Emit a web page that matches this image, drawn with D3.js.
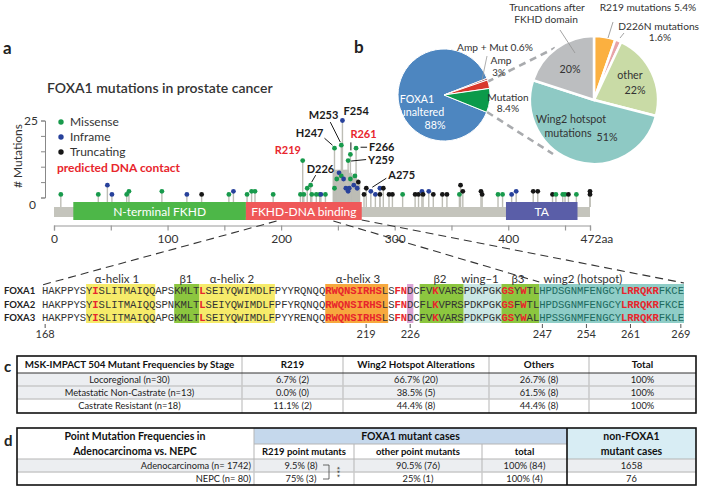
<!DOCTYPE html>
<html><head><meta charset="utf-8">
<script src="https://cdn.jsdelivr.net/npm/d3@7/dist/d3.min.js"></script>
<style>html,body{margin:0;padding:0;background:#fff;}svg{display:block;}</style>
</head><body>
<svg id="chart" width="702" height="487"></svg>
<script>
// ================= DATA =================
// lollipop mutations: amino-acid position, number of mutations, type (M missense, I inframe, T truncating)
const mutPos = [6,39,47,51,64,66,95,117,130,154,158,170,174,177,193,217,219,220,223,226,227,231,234,235,239,
  247,247,249,251,253,253,254,255,257,259,259,260,261,261,264,265,266,267,268,
  273,275,279,283,287,287,290,295,298,307,318,321,324,325,330,334,342,346,357,358,360,376,377,391,395,403,407,422,426,439,442,448,450,453,460,472,472];
const mutCount = [1,1,4,1,1,2,2,1,1,1,2,1,2,2,1,1,12,1,3,4,1,1,1,1,1,
  16,3,6,8,17,7,25,6,3,12,2,3,14,6,4,7,16,3,5,
  1,3,2,1,3,1,3,1,1,1,1,1,2,1,2,1,1,1,1,4,2,2,1,1,1,1,2,2,2,1,1,1,1,1,1,2,1];
const mutType = ["M","M","I","I","M","M","M","I","T","M","I","M","M","M","M","M","M","M","M","M","M","M","M","I","M",
  "M","M","M","I","M","M","I","I","I","M","I","I","M","M","I","M","M","I","T",
  "T","T","I","I","I","T","T","T","T","M","T","T","I","T","I","T","T","T","M","T","T","T","T","M","M","I","I","T","T","T","M","M","M","T","M","T","T"];
// dense stems of the wing2 hotspot cluster
const hotPos = [246,247,248,249,250,251,252,253,254,255,256,257,258,259,260,261,262,263,264,265,266,267,268,269];
const hotHeight = [8,9,9,9,9,9,9,9,9,9,9,9,9,9,8,8,8,7,7,7,7,6,6,5];
// labelled hotspot residues
const hotLabels = ["R219","D226","H247","M253","F254","R261","Y259","F266","A275"];
const hotLabelPos = [219,226,247,253,254,261,259,266,275];
const hotLabelCount = [12,4,16,17,25,14,12,16,3];
const dnaContact = ["R219","R261"];
// protein domains
const domainName = ["N-terminal FKHD","FKHD-DNA binding","TA"];
const domainStart = [17,169,398];
const domainEnd = [169,271,461];
const proteinLength = 472;
const axisTicks = [0,50,100,150,200,250,300,350,400,450,472];
const axisLabels = ["0","","100","","200","","300","","400","","472aa"];
const yTicks = [0,5,10,15,20,25];
const legendNames = ["Missense","Inframe","Truncating"];
const legendTypes = ["M","I","T"];

// pies
const leftPieNames = ["FOXA1 unaltered","Amp + Mut","Amp","Mutation"];
const leftPieValues = [88,0.6,3,8.4];
const rightPieNames = ["R219 mutations","D226N mutations","other","Wing2 hotspot mutations","Truncations after FKHD domain"];
const rightPieValues = [5.4,1.6,22,51,20];

// alignment
const seqNames = ["FOXA1","FOXA2","FOXA3"];
const seqs = [
  "HAKPPYSYISLITMAIQQAPSKMLTLSEIYQWIMDLFPYYRQNQQRWQNSIRHSLSFNDCFVKVARSPDKPGKGSYWTLHPDSGNMFENGCYLRRQKRFKCE",
  "HAKPPYSYISLITMAIQQSPNKMLTLSEIYQWIMDLFPFYRQNQQRWQNSIRHSLSFNDCFLKVPRSPDKPGKGSFWTLHPDSGNMFENGCYLRRQKRFKCE",
  "HAKPPYSYISLITMAIQQAPGKMLTLSEIYQWIMDLFPYYRENQQRWQNSIRHSLSFNDCFVKVARSPDKPGKGSYWALHPSSGNMFENGCYLRRQKRFKLE"];
const seqStart = 168;
const contactIdx = [8,25,45,46,47,48,49,50,51,52,53,56,57,62,73,74,76,92,93,94,95,96,97];
const structName = ["α-helix 1","β1","α-helix 2","α-helix 3","","β2","wing–1","β3","wing2 (hotspot)"];
const structFrom = [7,21,25,45,58,60,67,73,79];
const structTo   = [17,24,36,54,58,66,72,78,101];
const structKind = ["helix","beta","helix","helix3","d226","beta","wing1","beta","wing2"];
const residueTicks = [168,219,226,247,254,261,269];

// table c
const tcHeader = ["MSK-IMPACT 504 Mutant Frequencies by Stage","R219","Wing2 Hotspot Alterations","Others","Total"];
const tcRows = [
  ["Locoregional (n=30)","6.7% (2)","66.7% (20)","26.7% (8)","100%"],
  ["Metastatic Non-Castrate (n=13)","0.0% (0)","38.5% (5)","61.5% (8)","100%"],
  ["Castrate Resistant (n=18)","11.1% (2)","44.4% (8)","44.4% (8)","100%"]];
// table d
const tdTitle = ["Point Mutation Frequencies in","Adenocarcinoma vs. NEPC"];
const tdGroup = "FOXA1 mutant cases";
const tdSub = ["R219 point mutants","other point mutants","total"];
const tdOther = ["non-FOXA1","mutant cases"];
const tdRows = [
  ["Adenocarcinoma (n= 1742)","9.5% (8)","90.5% (76)","100% (84)","1658"],
  ["NEPC (n= 80)","75% (3)","25% (1)","100% (4)","76"]];
const tdSignif = "***";

// ================= DRAWING =================
const svg = d3.select("#chart");
const SANS = "Lato, 'Open Sans', 'DejaVu Sans', sans-serif";
const MONO = "'Liberation Mono', 'DejaVu Sans Mono', monospace";
const typeColor = {M:"#189a4c", I:"#27419b", T:"#161616"};
const RED = "#e8262d";

function txt(g, x, y, s, o = {}) {
  return g.append("text").attr("x", x).attr("y", y).text(s)
    .attr("font-family", o.family || SANS).attr("font-size", o.size || 11)
    .attr("font-weight", o.weight || "normal").attr("fill", o.fill || "#222")
    .attr("text-anchor", o.anchor || "start");
}

// panel letters
txt(svg, 3, 54, "a", {size: 17, weight: "bold"});
txt(svg, 354, 53, "b", {size: 17, weight: "bold"});
txt(svg, 4, 372, "c", {size: 15, weight: "bold"});
txt(svg, 4, 446, "d", {size: 15, weight: "bold"});

// ---------- panel a : lollipop ----------
const x = d3.scaleLinear().domain([0, proteinLength]).range([54, 590]);
const y = d3.scaleLinear().domain([0, 25]).range([197.5, 120.5]);
const barTop = 207, barBot = 217;

txt(svg, 47, 93, "FOXA1 mutations in prostate cancer", {size: 14, weight: 600, fill: "#333"});

// y axis
const yAx = svg.append("g").attr("transform", "translate(45,0)")
  .call(d3.axisLeft(y).tickValues(yTicks).tickSize(4).tickFormat(d => (d === 25 ? "25" : d === 0 ? "0" : "")));
yAx.select(".domain").attr("stroke", "#888");
yAx.selectAll(".tick line").attr("stroke", "#888");
yAx.selectAll("text").attr("font-family", SANS).attr("font-size", 12).attr("fill", "#333");
yAx.selectAll(".tick").filter(d => d === 0).select("text").attr("dy", "0.9em").attr("x", -9);
svg.append("text").attr("transform", "translate(22,156) rotate(-90)").attr("text-anchor", "middle")
  .attr("font-family", SANS).attr("font-size", 12).attr("fill", "#333").text("# Mutations");

// legend
legendNames.forEach((n, i) => {
  svg.append("circle").attr("cx", 61).attr("cy", 122 + i * 15).attr("r", 2.7).attr("fill", typeColor[legendTypes[i]]);
  txt(svg, 70, 126 + i * 15, n, {size: 12, fill: "#333"});
});
txt(svg, 57, 172, "predicted DNA contact", {size: 12, weight: "bold", fill: RED});

// stems
const stemColor = "#bdbdb5";
svg.append("g").selectAll("line").data(hotPos).join("line")
  .attr("x1", d => x(d)).attr("x2", d => x(d)).attr("y1", barTop)
  .attr("y2", (d, i) => y(hotHeight[i])).attr("stroke", stemColor).attr("stroke-width", 1.6);
svg.append("g").selectAll("line").data(mutPos).join("line")
  .attr("x1", d => x(d)).attr("x2", d => x(d)).attr("y1", barTop)
  .attr("y2", (d, i) => y(mutCount[i])).attr("stroke", stemColor).attr("stroke-width", 1.4);

// protein bar + domains
svg.append("rect").attr("x", x(0)).attr("y", barTop).attr("width", x(proteinLength) - x(0))
  .attr("height", barBot - barTop).attr("fill", "#c4c4bc");
const domColor = ["#4db748", "#ef5859", "#5a5ea8"];
domainName.forEach((n, i) => {
  svg.append("rect").attr("x", x(domainStart[i])).attr("y", 202).attr("width", x(domainEnd[i]) - x(domainStart[i]))
    .attr("height", 18).attr("fill", domColor[i]);
  txt(svg, (x(domainStart[i]) + x(domainEnd[i])) / 2, 215.5, n, {size: 12, fill: "#fff", anchor: "middle"});
});

// dots
svg.append("g").selectAll("circle").data(mutPos).join("circle")
  .attr("cx", d => x(d)).attr("cy", (d, i) => y(mutCount[i])).attr("r", 2.4)
  .attr("fill", (d, i) => typeColor[mutType[i]]);

// hotspot labels
const lab = svg.append("g");
const labOpt = n => ({size: 11, weight: "bold", fill: dnaContact.includes(n) ? RED : "#1a1a1a"});
const lineStroke = (x1, y1, x2, y2) => lab.append("line").attr("x1", x1).attr("y1", y1).attr("x2", x2).attr("y2", y2)
  .attr("stroke", "#1a1a1a").attr("stroke-width", 1);
hotLabels.forEach((n, i) => {
  const px = x(hotLabelPos[i]), py = y(hotLabelCount[i]);
  if (n === "R219") txt(lab, px - 28, py - 7, n, labOpt(n));
  if (n === "D226") { txt(lab, px - 4, py - 12, n, labOpt(n)); lineStroke(px + 1, py - 3, px + 5, py - 10); }
  if (n === "H247") { txt(lab, px - 11, py - 11, n, Object.assign(labOpt(n), {anchor: "end"})); lineStroke(px - 10, py - 10, px - 2, py - 3); }
  if (n === "M253") { txt(lab, px - 3, py - 26, n, Object.assign(labOpt(n), {anchor: "end"})); lineStroke(px - 11, py - 23, px - 1, py - 3); }
  if (n === "F254") txt(lab, px + 1, py - 6, n, labOpt(n));
  if (n === "R261") { txt(lab, px, py - 16, n, labOpt(n)); lineStroke(px + 0.5, py - 12, px + 0.5, py - 4); }
  if (n === "Y259") { txt(lab, px + 20, py + 3.5, n, labOpt(n)); lineStroke(px + 3, py + 0.5, px + 18, py - 1); }
  if (n === "F266") { txt(lab, px + 13, py + 3, n, labOpt(n)); lineStroke(px + 4.5, py - 1, px + 11, py - 1); }
  if (n === "A275") { txt(lab, px + 22, py - 9, n, labOpt(n)); lineStroke(px + 6, py - 1, px + 20, py - 10); }
});

// x axis
const xAx = svg.append("g").attr("transform", "translate(0,225.5)")
  .call(d3.axisBottom(x).tickValues(axisTicks).tickSize(5).tickPadding(4).tickFormat((d, i) => axisLabels[i]));
xAx.select(".domain").attr("stroke", "#999").attr("stroke-width", 1.2);
xAx.selectAll(".tick line").attr("stroke", "#999").attr("stroke-width", 1.2);
xAx.selectAll("text").attr("font-family", SANS).attr("font-size", 12).attr("fill", "#333");
xAx.selectAll(".tick").filter(d => d === proteinLength).select("text").attr("text-anchor", "start").attr("x", -10);

// ---------- alignment ----------
const cw = 6.294, sx0 = 42;
const ci = i => sx0 + (i + 0.5) * cw;
const rowY = [290, 304, 317.5];
// zoom dashed lines
const dash = svg.append("g").attr("stroke", "#333").attr("stroke-width", 1.1).attr("stroke-dasharray", "8,5").attr("fill", "none");
dash.append("line").attr("x1", x(196)).attr("y1", 221).attr("x2", sx0).attr("y2", 285);
dash.append("line").attr("x1", x(246)).attr("y1", 221).attr("x2", sx0 + 79 * cw).attr("y2", 282);
dash.append("line").attr("x1", x(271)).attr("y1", 220).attr("x2", sx0 + 102 * cw).attr("y2", 283);

const bgColor = {helix: "#f6eb6a", beta: "#8cc63f", helix3: "#f7a83e", d226: "#d9a3d3", wing1: "#cbe7e5", wing2: "#8fcdc7"};
structName.forEach((n, i) => {
  svg.append("rect").attr("x", sx0 + structFrom[i] * cw).attr("y", 284)
    .attr("width", (structTo[i] - structFrom[i] + 1) * cw).attr("height", 39).attr("fill", bgColor[structKind[i]]);
});
const structLabelX = [117, 186, 232, 358, 0, 440, 480, 518, 583];
structName.forEach((n, i) => { if (n) txt(svg, structLabelX[i], 283, n, {size: 11.5, anchor: "middle", fill: "#333"}); });

seqs.forEach((s, r) => {
  txt(svg, 4, rowY[r] + 3.5, seqNames[r], {size: 9.5, weight: "bold", fill: "#222"});
  const g = svg.append("g").attr("font-family", MONO).attr("font-size", 10.6);
  g.selectAll("text").data(s.split("")).join("text")
    .attr("x", (d, i) => ci(i)).attr("y", rowY[r] + 3.5).attr("text-anchor", "middle")
    .attr("font-weight", (d, i) => contactIdx.includes(i) ? "bold" : "normal")
    .attr("fill", (d, i) => contactIdx.includes(i) ? RED : (i >= 79 ? "#1d6a5e" : "#333"))
    .text(d => d);
});
residueTicks.forEach(a => {
  const px = ci(a - seqStart);
  svg.append("line").attr("x1", px).attr("x2", px).attr("y1", 324).attr("y2", 328).attr("stroke", "#555");
  txt(svg, px, 338, String(a), {size: 11, anchor: "middle", fill: "#333"});
});

// ---------- panel b : pies ----------
const deg = Math.PI / 180;
const PF = 10.2;
// dashed connectors
const gd = svg.append("g").attr("stroke", "#a9abae").attr("stroke-width", 2.6).attr("stroke-dasharray", "7,5");
gd.append("line").attr("x1", 487).attr("y1", 82).attr("x2", 555).attr("y2", 48);
gd.append("line").attr("x1", 487).attr("y1", 112).attr("x2", 553).attr("y2", 154);

const pieL = d3.pie().sort(null).startAngle(112 * deg).endAngle(112 * deg + 2 * Math.PI);
const arcL = d3.arc().innerRadius(0).outerRadius(46);
const leftColors = ["#4d86c0", "#8c2b2b", "#d8382b", "#0b9a4a"];
const gL = svg.append("g").attr("transform", "translate(444,95)");
gL.selectAll("path").data(pieL(leftPieValues)).join("path")
  .attr("d", arcL).attr("fill", (d, i) => leftColors[i]).attr("stroke", "#fff").attr("stroke-width", 1);
txt(svg, 417, 103, "FOXA1", {size: PF + 0.5, fill: "#fff", anchor: "middle"});
txt(svg, 422, 116, "unaltered", {size: PF + 0.5, fill: "#fff", anchor: "middle"});
txt(svg, 435, 129, "88%", {size: PF + 0.5, fill: "#fff", anchor: "middle"});
txt(svg, 495, 51, leftPieNames[1] + " 0.6%", {size: PF, anchor: "middle", fill: "#333"});
txt(svg, 501, 64, leftPieNames[2], {size: PF, anchor: "middle", fill: "#333"});
txt(svg, 499, 75.5, "3%", {size: PF - 0.5, anchor: "middle", fill: "#333"});
txt(svg, 508, 101, leftPieNames[3], {size: PF, anchor: "middle", fill: "#333"});
txt(svg, 508, 112, "8.4%", {size: PF, anchor: "middle", fill: "#333"});
svg.append("line").attr("x1", 482).attr("y1", 80).attr("x2", 487).attr("y2", 56).attr("stroke", "#999").attr("stroke-width", 0.8);

const pieR = d3.pie().sort(null);
const arcR = d3.arc().innerRadius(0).outerRadius(64);
const rightColors = ["#fbb040", "#e7a4a8", "#c9dba6", "#8ec9c4", "#bcbec0"];
const gR = svg.append("g").attr("transform", "translate(594,100)");
gR.selectAll("path").data(pieR(rightPieValues)).join("path")
  .attr("d", arcR).attr("fill", (d, i) => rightColors[i]).attr("stroke", "#fff").attr("stroke-width", 2.5);
txt(svg, 570, 73, "20%", {size: PF + 0.5, anchor: "middle", fill: "#333"});
txt(svg, 630, 79, "other", {size: PF + 0.5, anchor: "middle", fill: "#333"});
txt(svg, 635, 94, "22%", {size: PF + 0.5, anchor: "middle", fill: "#333"});
txt(svg, 571, 123, "Wing2 hotspot", {size: PF + 0.5, anchor: "middle", fill: "#333"});
txt(svg, 568, 137, "mutations", {size: PF + 0.5, anchor: "middle", fill: "#333"});
txt(svg, 607, 141, "51%", {size: PF + 0.5, anchor: "middle", fill: "#333"});
txt(svg, 547, 11, "Truncations after", {size: PF, anchor: "middle", fill: "#333"});
txt(svg, 546, 23, "FKHD domain", {size: PF, anchor: "middle", fill: "#333"});
txt(svg, 648, 11, rightPieNames[0] + " 5.4%", {size: PF, anchor: "middle", fill: "#333"});
txt(svg, 699, 30, rightPieNames[1], {size: PF, anchor: "end", fill: "#333"});
txt(svg, 660, 41, "1.6%", {size: PF, anchor: "middle", fill: "#333"});
const lc = svg.append("g").attr("stroke", "#999").attr("stroke-width", 0.9);
lc.append("line").attr("x1", 560).attr("y1", 30).attr("x2", 575).attr("y2", 53);
lc.append("line").attr("x1", 613).attr("y1", 22).attr("x2", 608).attr("y2", 38);
lc.append("line").attr("x1", 624).attr("y1", 33).attr("x2", 620).attr("y2", 38);

// ---------- table c ----------
const TF = "Lato, 'Open Sans', sans-serif";
const tc = svg.append("g");
const tcCols = [17, 242, 343, 489, 589, 696];
const tcY = [356, 373, 386, 399, 413];
tcRows.forEach((r, i) => {
  tc.append("rect").attr("x", tcCols[0]).attr("y", tcY[i + 1]).attr("width", tcCols[5] - tcCols[0])
    .attr("height", tcY[i + 2] - tcY[i + 1]).attr("fill", i < 2 ? "#eceef1" : "#ffffff");
});
for (let k = 1; k < 5; k++) tc.append("line").attr("x1", tcCols[k]).attr("x2", tcCols[k]).attr("y1", tcY[0]).attr("y2", tcY[4]).attr("stroke", "#b5b5b5").attr("stroke-width", 1);
[2, 3].forEach(k => tc.append("line").attr("x1", tcCols[0]).attr("x2", tcCols[5]).attr("y1", tcY[k]).attr("y2", tcY[k]).attr("stroke", "#c9c9c9").attr("stroke-width", 1.5));
tc.append("line").attr("x1", tcCols[0]).attr("x2", tcCols[5]).attr("y1", tcY[1]).attr("y2", tcY[1]).attr("stroke", "#333").attr("stroke-width", 1);
tcHeader.forEach((h, k) => txt(tc, (tcCols[k] + tcCols[k + 1]) / 2, 368, h, {family: TF, size: 9.8, weight: "bold", anchor: "middle", fill: "#111"}));
tcRows.forEach((r, i) => r.forEach((v, k) => txt(tc, (tcCols[k] + tcCols[k + 1]) / 2, tcY[i + 1] + 9.5, v, {family: TF, size: 9.3, anchor: "middle", fill: "#222"})));
tc.append("rect").attr("x", tcCols[0]).attr("y", tcY[0]).attr("width", tcCols[5] - tcCols[0]).attr("height", tcY[4] - tcY[0])
  .attr("fill", "none").attr("stroke", "#111").attr("stroke-width", 1.6);

// ---------- table d ----------
const td = svg.append("g");
const tdCols = [17, 254, 354, 482, 567, 696];
const tdY = [428, 444, 459, 472, 485];
td.append("rect").attr("x", tdCols[1]).attr("y", tdY[0]).attr("width", tdCols[4] - tdCols[1]).attr("height", tdY[1] - tdY[0]).attr("fill", "#c5d8ec");
td.append("rect").attr("x", tdCols[4]).attr("y", tdY[0]).attr("width", tdCols[5] - tdCols[4]).attr("height", tdY[2] - tdY[0]).attr("fill", "#d8edf4");
td.append("rect").attr("x", tdCols[0]).attr("y", tdY[2]).attr("width", tdCols[5] - tdCols[0]).attr("height", tdY[3] - tdY[2]).attr("fill", "#eceef1");
td.append("line").attr("x1", tdCols[1]).attr("x2", tdCols[1]).attr("y1", tdY[0]).attr("y2", tdY[4]).attr("stroke", "#b5b5b5");
[2, 3].forEach(k => td.append("line").attr("x1", tdCols[k]).attr("x2", tdCols[k]).attr("y1", tdY[1]).attr("y2", tdY[4]).attr("stroke", "#b5b5b5"));
td.append("line").attr("x1", tdCols[1]).attr("x2", tdCols[4]).attr("y1", tdY[1]).attr("y2", tdY[1]).attr("stroke", "#b5b5b5");
td.append("line").attr("x1", tdCols[0]).attr("x2", tdCols[5]).attr("y1", tdY[2]).attr("y2", tdY[2]).attr("stroke", "#b5b5b5");
td.append("line").attr("x1", tdCols[0]).attr("x2", tdCols[5]).attr("y1", tdY[3]).attr("y2", tdY[3]).attr("stroke", "#c9c9c9").attr("stroke-width", 1.5);
td.append("line").attr("x1", tdCols[4]).attr("x2", tdCols[4]).attr("y1", tdY[0]).attr("y2", tdY[4]).attr("stroke", "#111").attr("stroke-width", 1.6);
txt(td, 135, 440, tdTitle[0], {family: TF, size: 10.5, weight: "bold", anchor: "middle", fill: "#111"});
txt(td, 135, 455, tdTitle[1], {family: TF, size: 10.5, weight: "bold", anchor: "middle", fill: "#111"});
txt(td, (tdCols[1] + tdCols[4]) / 2, 440, tdGroup, {family: TF, size: 10.5, weight: "bold", anchor: "middle", fill: "#111"});
txt(td, (tdCols[4] + tdCols[5]) / 2, 440, tdOther[0], {family: TF, size: 10.5, weight: "bold", anchor: "middle", fill: "#111"});
txt(td, (tdCols[4] + tdCols[5]) / 2, 455, tdOther[1], {family: TF, size: 10.5, weight: "bold", anchor: "middle", fill: "#111"});
tdSub.forEach((s, k) => txt(td, (tdCols[k + 1] + tdCols[k + 2]) / 2, 455, s, {family: TF, size: 9.5, weight: "bold", anchor: "middle", fill: "#111"}));
tdRows.forEach((r, i) => {
  const yy = tdY[i + 2] + 9.5;
  txt(td, 251, yy, r[0], {family: TF, size: 9.3, anchor: "end", fill: "#222"});
  txt(td, 301, yy, r[1], {family: TF, size: 9.3, anchor: "middle", fill: "#222"});
  for (let k = 2; k < 5; k++) txt(td, (tdCols[k] + tdCols[k + 1]) / 2, yy, r[k], {family: TF, size: 9.3, anchor: "middle", fill: "#222"});
});
td.append("path").attr("d", "M323,465 H329 V479 H323").attr("fill", "none").attr("stroke", "#444").attr("stroke-width", 0.8);
td.append("text").attr("transform", "translate(333,472) rotate(90)").attr("text-anchor", "middle")
  .attr("font-family", TF).attr("font-size", 9).attr("fill", "#333").text(tdSignif);
td.append("rect").attr("x", tdCols[0]).attr("y", tdY[0]).attr("width", tdCols[5] - tdCols[0]).attr("height", tdY[4] - tdY[0])
  .attr("fill", "none").attr("stroke", "#111").attr("stroke-width", 1.6);
</script>
</body></html>
